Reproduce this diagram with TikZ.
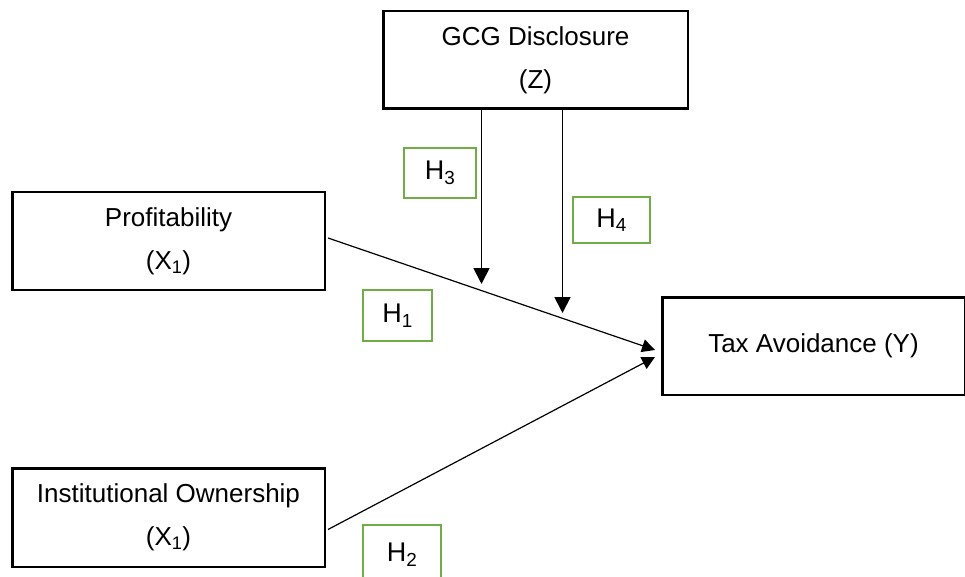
\documentclass[tikz,border=0pt]{standalone}
\usepackage{fontspec}
\setmainfont{Liberation Sans}
\usetikzlibrary{arrows.meta}
\definecolor{hgreen}{HTML}{70AD47}
\begin{document}
\begin{tikzpicture}[x=1pt,y=-1pt,
  varbox/.style={draw=black,line width=2.5pt,rectangle,inner sep=0pt,align=center,
    font=\fontsize{26}{43}\selectfont},
  hbox/.style={draw=hgreen,line width=2.2pt,rectangle,inner sep=0pt,
    font=\fontsize{27}{32}\selectfont},
  vline/.style={line width=1.8pt,-{Triangle[width=16pt,length=16pt]}},
  dline/.style={line width=1.2pt,-{Triangle[width=13pt,length=13pt]}}]
\useasboundingbox (0,0) rectangle (965,577);
\node[varbox,minimum width=304.5pt,minimum height=97.5pt] (z) at (535.5,60) {GCG Disclosure\\(Z)};
\node[varbox,minimum width=312.5pt,minimum height=97.5pt] (p) at (168.5,241) {Profitability\\(X\textsubscript{1})};
\node[varbox,minimum width=312.5pt,minimum height=98.5pt] (o) at (168.5,517.5) {Institutional Ownership\\(X\textsubscript{1})};
\node[varbox,minimum width=302.5pt,minimum height=97.5pt] (t) at (813.5,346) {Tax Avoidance (Y)};
\node[hbox,minimum width=72pt,minimum height=50pt] (h3) at (440,173) {H\textsubscript{3}};
\node[hbox,minimum width=77pt,minimum height=46pt] (h4) at (611.5,220) {H\textsubscript{4}};
\node[hbox,minimum width=69pt,minimum height=51pt] (h1) at (397.5,315.5) {H\textsubscript{1}};
\node[hbox,minimum width=78pt,minimum height=60pt] (h2) at (402,555) {H\textsubscript{2}};
\coordinate (e3) at (481.5,284);
\coordinate (e4) at (562.5,313);
\draw[dline] ([shift={(2,-3)}]p.east) -- ([shift={(-6,4)}]t.west);
\draw[dline] ([shift={(2,12)}]o.east) -- ([shift={(-6,11)}]t.west);
\draw[vline] ([xshift=-54pt]z.south) -- (e3);
\draw[vline] ([xshift=27pt]z.south) -- (e4);
\end{tikzpicture}
\end{document}
